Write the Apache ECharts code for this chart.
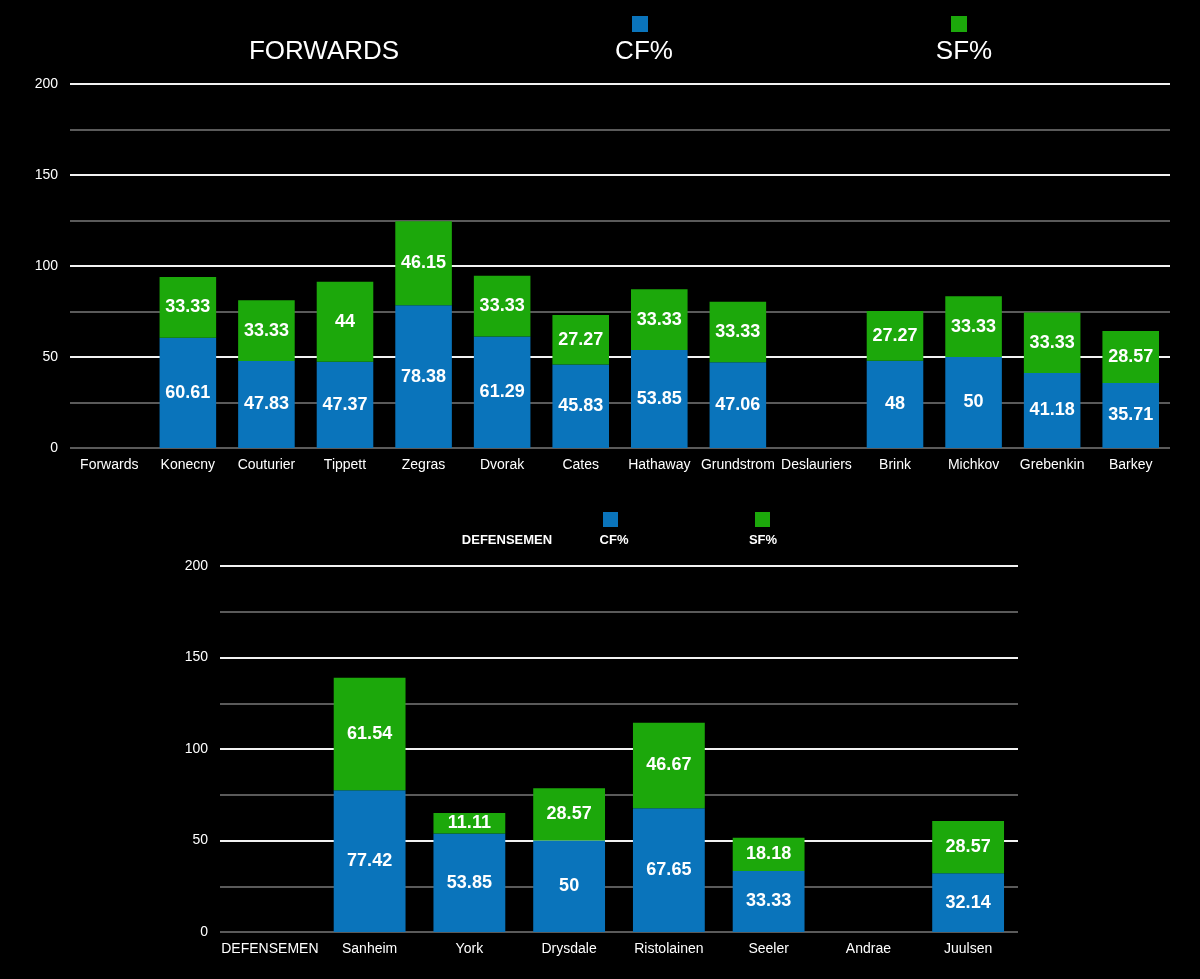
<!DOCTYPE html>
<html>
<head>
<meta charset="utf-8">
<script src="https://cdn.jsdelivr.net/npm/echarts@6/dist/echarts.min.js"></script>
<style>
html,body{margin:0;padding:0;background:#000;}
#c{width:1200px;height:979px;}
</style>
</head>
<body>
<div id="c"></div>
<script>
const fwdCategories = ['Forwards','Konecny','Couturier','Tippett','Zegras','Dvorak','Cates','Hathaway','Grundstrom','Deslauriers','Brink','Michkov','Grebenkin','Barkey'];
const fwdCF = [null,60.61,47.83,47.37,78.38,61.29,45.83,53.85,47.06,null,48,50,41.18,35.71];
const fwdSF = [null,33.33,33.33,44,46.15,33.33,27.27,33.33,33.33,null,27.27,33.33,33.33,28.57];

const defCategories = ['DEFENSEMEN','Sanheim','York','Drysdale','Ristolainen','Seeler','Andrae','Juulsen'];
const defCF = [null,77.42,53.85,50,67.65,33.33,null,32.14];
const defSF = [null,61.54,11.11,28.57,46.67,18.18,null,28.57];

const yTicks = [0,50,100,150,200];

const BLUE = '#0a74bb';
const GREEN = '#1ca80b';
const FONT = '"Liberation Sans", Arial, Helvetica, sans-serif';

const gridLineColors = ['#5a5a5a','#5a5a5a','#f2f2f2','#5a5a5a','#f2f2f2','#5a5a5a','#f2f2f2','#5a5a5a','#f2f2f2'];

function yAxis(gi){
  return {
    type:'value', gridIndex:gi, min:0, max:200, interval:25,
    axisLine:{show:false}, axisTick:{show:false},
    axisLabel:{color:'#fff', fontSize:14, fontFamily:FONT, margin:12,
      formatter:v => yTicks.indexOf(v) >= 0 ? String(v) : ''},
    splitLine:{show:true, lineStyle:{color:gridLineColors, width:2}}
  };
}
function xAxis(gi, cats){
  return {
    type:'category', gridIndex:gi, data:cats,
    axisLine:{show:false}, axisTick:{show:false},
    axisLabel:{color:'#fff', fontSize:14, fontFamily:FONT, margin:10, interval:0}
  };
}
function lbl(size){
  return {show:true, position:'inside', color:'#fff', fontSize:size, fontWeight:'bold', fontFamily:FONT,
    formatter:p => p.value == null ? '' : String(p.value)};
}

const chart = echarts.init(document.getElementById('c'));
chart.setOption({
  backgroundColor:'#000',
  animation:false,
  grid:[
    {left:70, right:30, top:84, height:364},
    {left:220, right:182, top:566, height:366}
  ],
  xAxis:[xAxis(0,fwdCategories), xAxis(1,defCategories)],
  yAxis:[yAxis(0), yAxis(1)],
  series:[
    {name:'CF%', type:'bar', stack:'f', xAxisIndex:0, yAxisIndex:0, data:fwdCF, itemStyle:{color:BLUE}, barWidth:'72%', label:lbl(18)},
    {name:'SF%', type:'bar', stack:'f', xAxisIndex:0, yAxisIndex:0, data:fwdSF, itemStyle:{color:GREEN}, barWidth:'72%', label:lbl(18)},
    {name:'CF%', type:'bar', stack:'d', xAxisIndex:1, yAxisIndex:1, data:defCF, itemStyle:{color:BLUE}, barWidth:'72%', label:lbl(18)},
    {name:'SF%', type:'bar', stack:'d', xAxisIndex:1, yAxisIndex:1, data:defSF, itemStyle:{color:GREEN}, barWidth:'72%', label:lbl(18)}
  ],
  graphic:[
    {type:'text', style:{text:'FORWARDS', x:324, y:52, fill:'#fff', font:'26px '+FONT, textAlign:'center', textVerticalAlign:'middle'}},
    {type:'rect', shape:{x:632, y:16, width:16, height:16}, style:{fill:BLUE}},
    {type:'text', style:{text:'CF%', x:644, y:52, fill:'#fff', font:'26px '+FONT, textAlign:'center', textVerticalAlign:'middle'}},
    {type:'rect', shape:{x:951, y:16, width:16, height:16}, style:{fill:GREEN}},
    {type:'text', style:{text:'SF%', x:964, y:52, fill:'#fff', font:'26px '+FONT, textAlign:'center', textVerticalAlign:'middle'}},
    {type:'text', style:{text:'DEFENSEMEN', x:507, y:540, fill:'#fff', font:'bold 13px '+FONT, textAlign:'center', textVerticalAlign:'middle'}},
    {type:'rect', shape:{x:603, y:512, width:15, height:15}, style:{fill:BLUE}},
    {type:'text', style:{text:'CF%', x:614, y:540, fill:'#fff', font:'bold 13px '+FONT, textAlign:'center', textVerticalAlign:'middle'}},
    {type:'rect', shape:{x:755, y:512, width:15, height:15}, style:{fill:GREEN}},
    {type:'text', style:{text:'SF%', x:763, y:540, fill:'#fff', font:'bold 13px '+FONT, textAlign:'center', textVerticalAlign:'middle'}}
  ]
});
</script>
</body>
</html>
